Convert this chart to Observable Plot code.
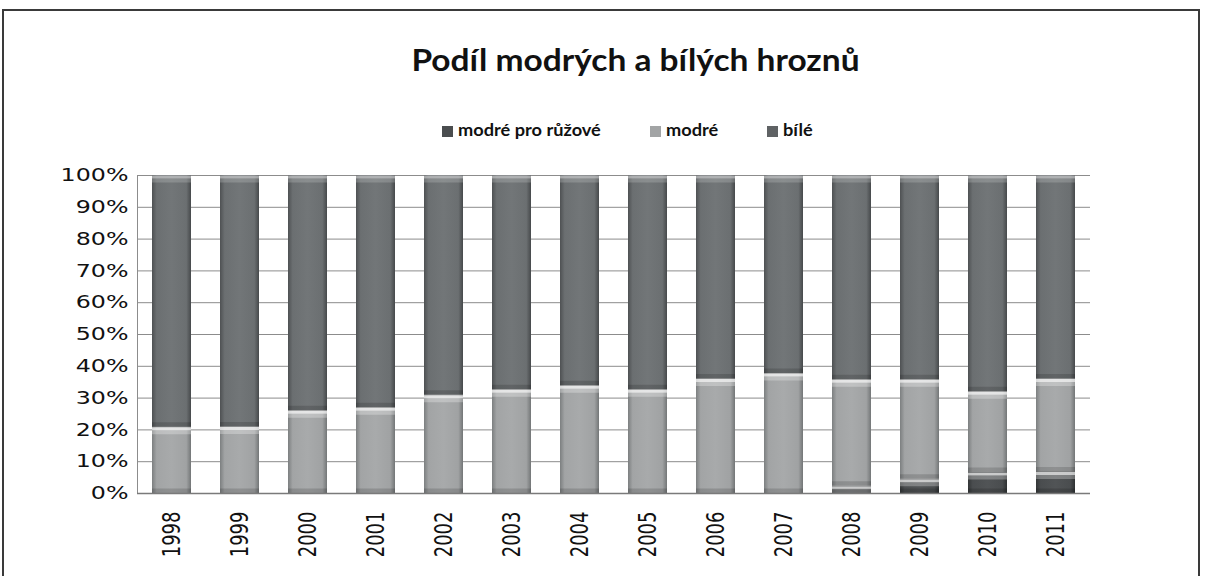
<!DOCTYPE html>
<html>
<head>
<meta charset="utf-8">
<script src="https://cdn.jsdelivr.net/npm/d3@7"></script>
<script src="https://cdn.jsdelivr.net/npm/@observablehq/plot@0.6"></script>
<style>
  html, body { margin: 0; padding: 0; background: #fff; }
  #wrap { position: relative; width: 1206px; height: 576px; overflow: hidden; background: #fff; }
  #frame { position: absolute; left: 2px; top: 9px; width: 1198px; height: 600px; border: 2px solid #3a3a3a; box-sizing: border-box; }
  #title { position: absolute; left: 0; width: 1270px; top: 40px; text-align: center; font-family: Lato, "Open Sans", sans-serif; font-weight: 700; font-size: 31px; color: #111; line-height: 38px; }
  #title span { display: inline-block; transform: scaleX(1.08); transform-origin: center; }
  .leg { position: absolute; top: 119px; font-family: Lato, "Open Sans", sans-serif; font-weight: 700; font-size: 17px; line-height: 22px; color: #111; white-space: nowrap; }
  .leg i { display: inline-block; width: 11px; height: 11px; margin-right: 5px; vertical-align: -1px; }
  .leg span { display: inline-block; transform: scaleX(1.07); transform-origin: left center; }
  #chart { position: absolute; left: 0; top: 160px; }
</style>
</head>
<body>
<svg width="0" height="0" style="position:absolute">
  <defs>
    <linearGradient id="gWhite" x1="0" x2="1" y1="0" y2="0">
      <stop offset="0" stop-color="#4e5153"/>
      <stop offset="0.12" stop-color="#6b6f71"/>
      <stop offset="0.5" stop-color="#727678"/>
      <stop offset="0.88" stop-color="#6b6f71"/>
      <stop offset="1" stop-color="#46494b"/>
    </linearGradient>
    <linearGradient id="gBlue" x1="0" x2="1" y1="0" y2="0">
      <stop offset="0" stop-color="#7c7f80"/>
      <stop offset="0.12" stop-color="#a2a4a5"/>
      <stop offset="0.5" stop-color="#a8aaab"/>
      <stop offset="0.88" stop-color="#a0a2a3"/>
      <stop offset="1" stop-color="#737677"/>
    </linearGradient>
    <linearGradient id="gRose" x1="0" x2="1" y1="0" y2="0">
      <stop offset="0" stop-color="#333637"/>
      <stop offset="0.12" stop-color="#4a4d4f"/>
      <stop offset="0.5" stop-color="#515456"/>
      <stop offset="0.88" stop-color="#4a4d4f"/>
      <stop offset="1" stop-color="#2e3132"/>
    </linearGradient>
  </defs>
</svg>
<div id="wrap">
  <div id="frame"></div>
  <div id="title"><span>Podíl modrých a bílých hroznů</span></div>
  <div id="legend"></div>
  <div id="chart"></div>
</div>
<script>
const years = ["1998","1999","2000","2001","2002","2003","2004","2005","2006","2007","2008","2009","2010","2011"];
const seriesNames = ["modré pro růžové", "modré", "bílé"];
const rosePct  = [0, 0, 0, 0, 0, 0, 0, 0, 0, 0, 2.3, 4.5, 6.6, 6.8];
const bluePct  = [20.8, 20.9, 26.0, 27.0, 30.9, 32.6, 33.9, 32.6, 36.0, 37.7, 33.5, 31.3, 25.4, 29.2];
const whitePct = [79.2, 79.1, 74.0, 73.0, 69.1, 67.4, 66.1, 67.4, 64.0, 62.3, 64.2, 64.2, 68.0, 64.0];
const yTicks = [0, 10, 20, 30, 40, 50, 60, 70, 80, 90, 100];

const seriesValues = [rosePct, bluePct, whitePct];
const fills = ["url(#gRose)", "url(#gBlue)", "url(#gWhite)"];
const highlights = ["#ffffff", "#ffffff", "#c9cbcc"];
const legendColors = ["#4a4d4f", "#a2a4a5", "#5f6264"];
const legendLeft = [442, 650, 767];

const rows = [];
seriesNames.forEach((s, si) => {
  years.forEach((y, yi) => rows.push({year: y, series: s, value: seriesValues[si][yi]}));
});
const nonZero = rows.filter(d => d.value > 0);
const hl = d => highlights[seriesNames.indexOf(d.series)];

const stackOpts = {x: "year", y: "value", z: "series", order: seriesNames};

const chart = Plot.plot({
  width: 1206,
  height: 416,
  marginLeft: 137,
  marginRight: 116,
  marginTop: 15,
  marginBottom: 83,
  style: {fontFamily: "DejaVu Sans, sans-serif", fontSize: "18px", color: "#111", background: "transparent"},
  x: {domain: years, paddingInner: 0.43, paddingOuter: 0.215, label: null},
  y: {domain: [0, 100], label: null},
  color: {domain: seriesNames, range: fills},
  marks: [
    Plot.gridY(yTicks, {stroke: "#8c8c8c", strokeOpacity: 1, strokeWidth: 1}),
    Plot.barY(nonZero, Plot.stackY({...stackOpts, fill: "series"})),
    Plot.tickY(nonZero, Plot.stackY2({...stackOpts, stroke: hl, strokeOpacity: 0.7, strokeWidth: 3, dy: 1.5})),
    Plot.tickY(nonZero, Plot.stackY2({...stackOpts, stroke: hl, strokeOpacity: 0.28, strokeWidth: 4, dy: 5})),
    Plot.tickY(nonZero, Plot.stackY1({...stackOpts, stroke: "#000000", strokeOpacity: 0.15, strokeWidth: 5, dy: -2.5})),
    Plot.frame({anchor: "left", stroke: "#8c8c8c"}),
    Plot.ruleY([0], {stroke: "#7a7a7a", strokeWidth: 1.5}),
    Plot.axisY({ticks: yTicks, tickFormat: d => d + "%", tickSize: 0, tickPadding: 9, fill: "#111", label: null}),
    Plot.axisX({tickSize: 0, tickPadding: 18, tickRotate: -90, fill: "#111", label: null})
  ]
});
document.getElementById("chart").appendChild(chart);

// horizontal stretch of tick labels to match the reference's proportions
chart.querySelectorAll('g[aria-label="y-axis tick label"] text').forEach(t => {
  const tr = t.getAttribute("transform") || "";
  t.setAttribute("transform", tr + " scale(1.32,1)");
});
chart.querySelectorAll('g[aria-label="x-axis tick label"] text').forEach(t => {
  const tr = t.getAttribute("transform") || "";
  t.setAttribute("transform", tr.includes("rotate") ? tr.replace("rotate", "scale(1.38,1) rotate") : tr);
});

// legend
const legend = document.getElementById("legend");
seriesNames.forEach((s, i) => {
  const item = document.createElement("div");
  item.className = "leg";
  item.style.left = legendLeft[i] + "px";
  item.innerHTML = `<i style="background:${legendColors[i]}"></i><span>${s}</span>`;
  legend.appendChild(item);
});
</script>
</body>
</html>
